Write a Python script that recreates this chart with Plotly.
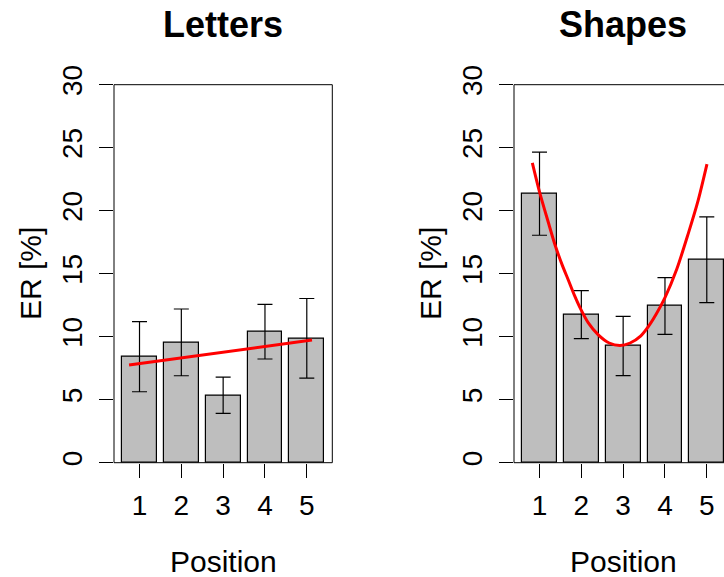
import plotly.graph_objects as go

# ---------------- data ----------------
positions = ["1", "2", "3", "4", "5"]

letters_er = [8.41, 9.55, 5.35, 10.40, 9.87]
letters_se = [2.78, 2.65, 1.44, 2.17, 3.16]
letters_fit_x = [0.40, 5.65]
letters_fit_y = [7.75, 9.74]

shapes_er = [21.35, 11.75, 9.26, 12.44, 16.11]
shapes_se = [3.30, 1.90, 2.35, 2.25, 3.40]
shapes_fit_x = [0.494, 0.70, 0.95, 1.144, 1.35, 1.526, 1.70, 1.89, 2.10, 2.387, 2.70, 3.01,
                3.30, 3.60, 3.822, 4.05, 4.30, 4.637, 4.97, 5.25, 5.505]
shapes_fit_y = [23.80, 21.50, 19.10, 17.30, 15.70, 14.50, 13.30, 12.15, 11.10, 10.15, 9.50, 9.30,
                9.50, 10.05, 10.80, 11.80, 13.10, 15.35, 18.20, 20.80, 23.70]

y_ticks = [0, 5, 10, 15, 20, 25, 30]

# ---------------- layout helpers ----------------
W, H = 724, 577
FONT = "Liberation Sans, Arial, Helvetica, sans-serif"
BAR_FILL = "#BEBEBE"

# R barplot layout: width 1, space 0.2
mids = [0.7 + 1.2 * i for i in range(len(positions))]
x_lo = -0.032
ppu = (332.3 - 114) / 6.264  # pixels per x unit

def px(x):
    return x / W

def py(y):
    return 1 - y / H

fig = go.Figure()

for er, se, fx, fy, xa, ya in [
    (letters_er, letters_se, letters_fit_x, letters_fit_y, "x", "y"),
    (shapes_er, shapes_se, shapes_fit_x, shapes_fit_y, "x2", "y2"),
]:
    fig.add_trace(go.Bar(
        x=mids, y=er, width=1,
        marker=dict(color=BAR_FILL, line=dict(color="black", width=1.2)),
        error_y=dict(type="data", array=se, visible=True,
                     color="black", thickness=1.2, width=7.5),
        xaxis=xa, yaxis=ya, showlegend=False, hoverinfo="skip",
    ))
    fig.add_trace(go.Scatter(
        x=fx, y=fy, mode="lines",
        line=dict(color="red", width=3, shape="spline", smoothing=0.8),
        xaxis=xa, yaxis=ya, showlegend=False, hoverinfo="skip",
    ))

ydom = [py(462.7), py(84.7)]
x1dom = [px(114), px(332.3)]
x2dom = [px(514), 1.0]
x2_hi = x_lo + (W - 514) / ppu

common_x = dict(
    tickmode="array", tickvals=mids, ticktext=positions,
    ticks="outside", ticklen=14, tickwidth=1, tickcolor="black",
    showline=False, showgrid=False, zeroline=False, automargin=False,
    tickfont=dict(family=FONT, size=28, color="black"),
    ticklabelstandoff=4, fixedrange=True,
)
common_y = dict(
    range=[0, 30], tickmode="array", tickvals=y_ticks,
    ticktext=[str(v) for v in y_ticks],
    ticks="outside", ticklen=14, tickwidth=1, tickcolor="black",
    showline=False, showgrid=False, zeroline=False, tickangle=-90,
    automargin=False,
    tickfont=dict(family=FONT, size=28, color="black"),
    ticklabelstandoff=6, fixedrange=True,
)

fig.update_layout(
    width=W, height=H,
    margin=dict(l=0, r=0, t=0, b=0, autoexpand=False),
    paper_bgcolor="white", plot_bgcolor="white",
    xaxis=dict(domain=x1dom, range=[x_lo, x_lo + 6.264], anchor="y", **common_x),
    yaxis=dict(domain=ydom, anchor="x", **common_y),
    xaxis2=dict(domain=x2dom, range=[x_lo, x2_hi], anchor="y2", **common_x),
    yaxis2=dict(domain=ydom, anchor="x2", **common_y),
    bargap=0,
)

# frames
line = dict(color="black", width=1)
fig.add_shape(type="rect", xref="x domain", yref="y domain",
              x0=0, x1=1, y0=0, y1=1, line=line)
for (x0, y0, x1, y1) in [(0, 0, 0, 1), (0, 1, 1, 1), (0, 0, 1, 0)]:
    fig.add_shape(type="line", xref="x2 domain", yref="y2 domain",
                  x0=x0, y0=y0, x1=x1, y1=y1, line=line)

# titles & axis labels
ann = []
for cx, title in [(223.2, "Letters"), (623.0, "Shapes")]:
    ann.append(dict(x=px(cx), y=py(24.5), xref="paper", yref="paper",
                    text="<b>" + title + "</b>", showarrow=False,
                    xanchor="center", yanchor="middle",
                    font=dict(family=FONT, size=36, color="black")))
    ann.append(dict(x=px(cx), y=py(561), xref="paper", yref="paper",
                    text="Position", showarrow=False,
                    xanchor="center", yanchor="middle",
                    font=dict(family=FONT, size=30, color="black")))
for cx in [30, 430]:
    ann.append(dict(x=px(cx), y=py(274), xref="paper", yref="paper",
                    text="ER [%]", showarrow=False, textangle=-90,
                    xanchor="center", yanchor="middle",
                    font=dict(family=FONT, size=30, color="black")))
fig.update_layout(annotations=ann)

fig.write_html("out.html")
